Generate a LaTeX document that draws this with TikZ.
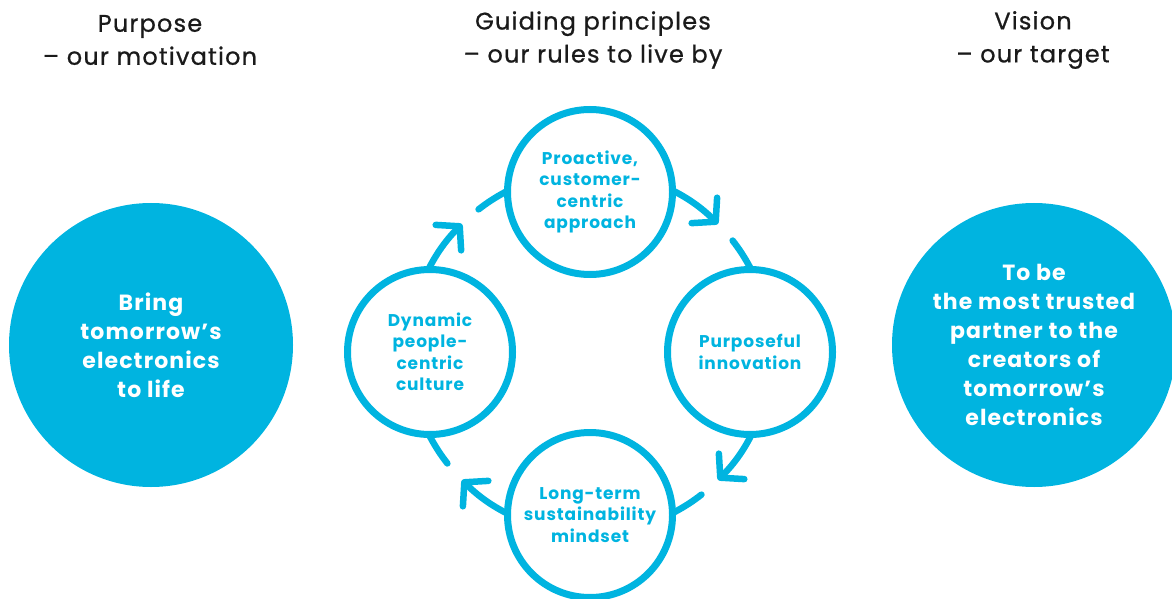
\documentclass[tikz,border=0pt]{standalone}
\usepackage{fontspec}
\setmainfont{Poppins}[LetterSpace=5]
\newfontfamily\headfont{Poppins}[LetterSpace=5, FakeBold=0.8]
\usetikzlibrary{arrows.meta, positioning, calc, backgrounds}
\definecolor{brandcyan}{RGB}{0, 180, 224}
\definecolor{headblack}{RGB}{26, 26, 26}

\begin{document}
\begin{tikzpicture}[x=1pt, y=1pt,
  heading/.style={font=\headfont\fontsize{24}{33}\selectfont, text=headblack, align=center},
  bigdot/.style={circle, fill=brandcyan, minimum size=284pt, inner sep=0pt, text=white, align=center, font=\fontsize{22}{29}\selectfont\bfseries},
  ring/.style={circle, draw=brandcyan, line width=7pt, fill=white, minimum size=165pt, inner sep=0pt, text=brandcyan, align=center, font=\fontsize{17}{21.5}\selectfont\bfseries},
  flow/.style={draw=brandcyan, line width=6.5pt, line cap=round}
]
  \useasboundingbox (0,0) rectangle (1172,598);

  % Headings
  \node[heading] (hpurpose) at (150, 558) {Purpose\\– our motivation};
  \node[heading] (hguiding) at (593, 558) {Guiding principles\\– our rules to live by};
  \node[heading] (hvision) at (1033, 558) {Vision\\– our target};

  % Purpose and vision
  \node[bigdot] (purpose) at (151, 253) {Bring\\tomorrow’s\\electronics\\to life};
  \node[bigdot] (vision) at (1034, 253) {To be\\the most trusted\\partner to the\\creators of\\tomorrow’s\\electronics};

  % Guiding principles
  \coordinate (hub) at (590, 246);
  \node[ring] (proactive) at (590, 406) {Proactive,\\customer-\\centric\\approach};
  \node[ring] (purposeful) at (750, 246) {Purposeful\\innovation};
  \node[ring] (longterm) at (590, 83) {Long-term\\sustainability\\mindset};
  \node[ring] (dynamic) at (430, 246) {Dynamic\\people-\\centric\\culture};

  % Cycle arrows
  \begin{scope}[on background layer]
    \foreach \a in {90, 0, -90, -180} {
      \draw[flow, -{Straight Barb[length=16pt, width=36pt, round]}] ($(hub)+(\a:181pt)$) arc[start angle=\a, end angle=\a-45, radius=181pt];
      \draw[flow] ($(hub)+(\a-52:181pt)$) arc[start angle=\a-52, end angle=\a-90, radius=181pt];
    }
  \end{scope}
\end{tikzpicture}
\end{document}
